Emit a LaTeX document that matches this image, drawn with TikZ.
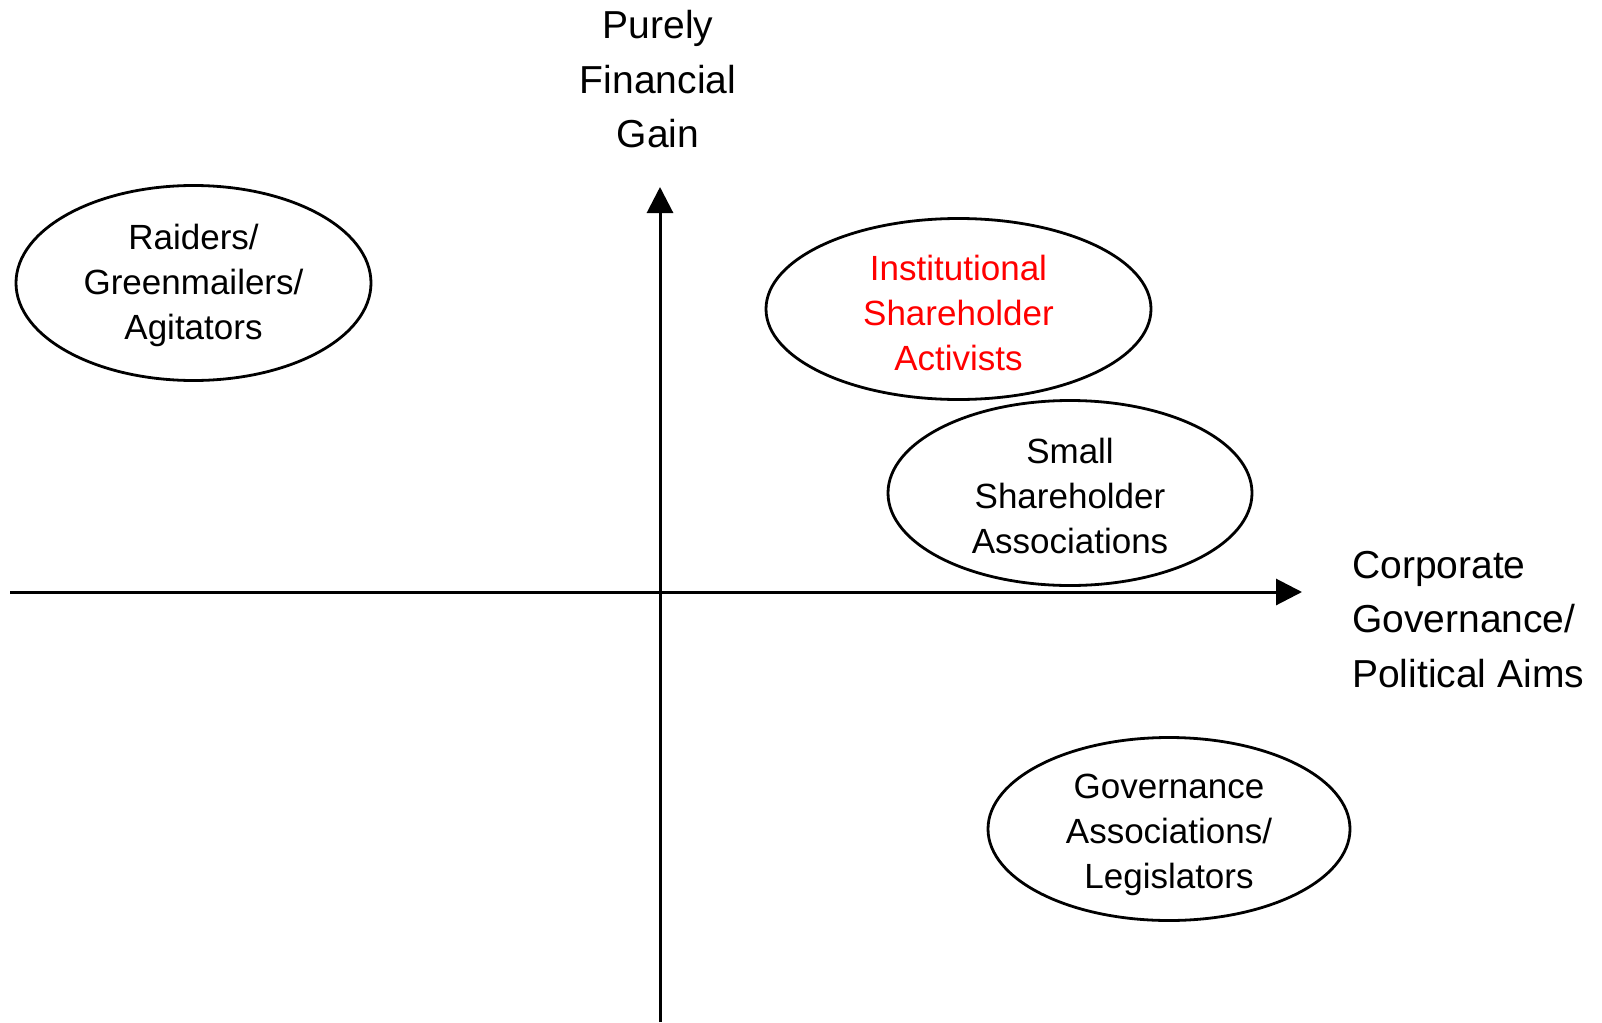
\documentclass[tikz,border=0pt]{standalone}
\usepackage{fontspec}
\setmainfont{Liberation Sans}
\usetikzlibrary{arrows.meta,shapes.geometric}
\begin{document}
\begin{tikzpicture}[x=1pt,y=-1pt,
  axis/.style={line width=3pt,-{Triangle[length=26pt,width=26pt]}},
  oval/.style={draw,ellipse,line width=2.8pt,inner sep=0pt},
  ovaltext/.style={inner sep=0pt,align=center,font=\fontsize{35}{45}\selectfont},
  axislabel/.style={inner sep=0pt,font=\fontsize{39}{54.5}\selectfont}]
\useasboundingbox (0,0) rectangle (1602,1022);
\coordinate (ybot) at (660,1022);
\coordinate (ytop) at (660,187);
\coordinate (xleft) at (10,592);
\coordinate (xright) at (1302,592);
\draw[axis] (ybot) -- (ytop);
\draw[axis] (xleft) -- (xright);
\node[axislabel,anchor=north,align=center] (ylab) at (658,10.5) {Purely\\Financial\\Gain};
\node[axislabel,anchor=north west,align=left] (xlab) at (1352,551) {Corporate\\Governance/\\Political Aims};
\node[oval,minimum width=355pt,minimum height=195pt] (raiders) at (193.5,283) {};
\node[oval,minimum width=385pt,minimum height=181pt] (inst) at (958.5,309) {};
\node[oval,minimum width=364pt,minimum height=185pt] (small) at (1070,493) {};
\node[oval,minimum width=362pt,minimum height=183pt] (gov) at (1169,829) {};
\node[ovaltext] (raiderst) at ([yshift=-2.5pt]raiders.center) {Raiders/\\Greenmailers/\\Agitators};
\node[ovaltext,text=red] (instt) at ([yshift=-3.5pt]inst.center) {Institutional\\Shareholder\\Activists};
\node[ovaltext] (smallt) at ([yshift=-3pt]small.center) {Small\\Shareholder\\Associations};
\node[ovaltext] (govt) at ([yshift=-6pt]gov.center) {Governance\\Associations/\\Legislators};
\end{tikzpicture}
\end{document}
